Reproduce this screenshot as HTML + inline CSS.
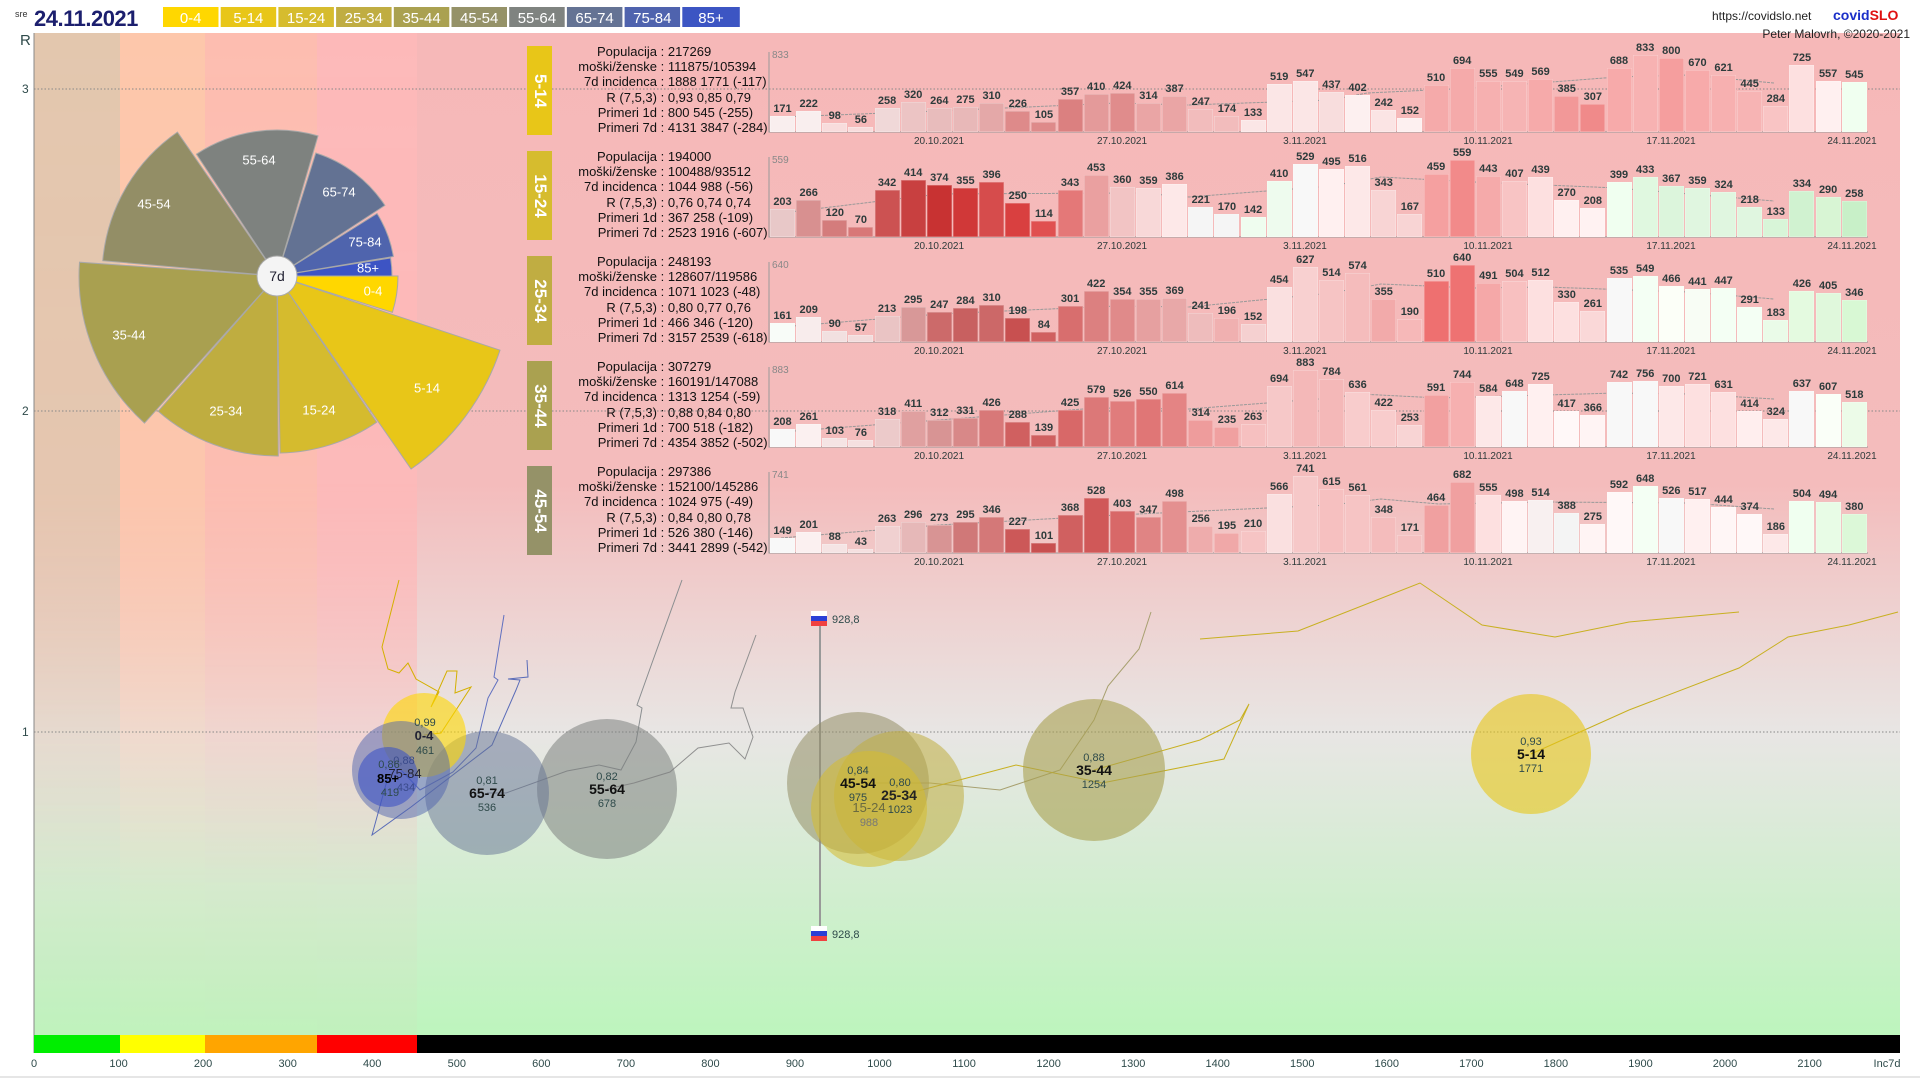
<!DOCTYPE html>
<html><head><meta charset="utf-8">
<style>
html,body{margin:0;padding:0;width:1920px;height:1080px;overflow:hidden;background:#fff;font-family:"Liberation Sans",sans-serif}
#root{position:relative;width:1920px;height:1080px}
svg{position:absolute;left:0;top:0}
.bars{position:absolute;left:770px;height:86px;width:1100px;display:flex;align-items:flex-end;gap:1.15px}
.bars b{display:block;flex:none;width:25px;position:relative;height:calc(var(--v)*var(--k));box-shadow:inset 0 0 0 0.6px rgba(255,255,255,0.35)}
.bars s{text-decoration:none;position:absolute;bottom:100%;left:-8px;right:-8px;text-align:center;font-size:11px;line-height:13px;color:#2d3b3b}
.info{position:absolute;left:560px;font-size:13px;line-height:15.2px;color:#111;white-space:pre}
.info .l{display:inline-block;width:97px;text-align:right}
.lab{position:absolute;left:527px;width:25px;height:89px}
.lab span{position:absolute;left:50%;top:50%;transform:translate(-50%,-50%) rotate(90deg);color:#fff;font-weight:bold;font-size:17px;white-space:nowrap}
</style></head><body><div id="root">
<svg width="1920" height="1080" viewBox="0 0 1920 1080" font-family="Liberation Sans, sans-serif">
<defs>
<linearGradient id="bg" x1="0" y1="0" x2="0" y2="1">
<stop offset="0" stop-color="#f6b8b8"/><stop offset="0.45" stop-color="#f4bcbc"/>
<stop offset="0.7" stop-color="#e8e6e4"/><stop offset="1" stop-color="#bdf5bd"/></linearGradient>
<linearGradient id="fade" x1="0" y1="0" x2="0" y2="1">
<stop offset="0" stop-color="#fff" stop-opacity="1"/><stop offset="0.45" stop-color="#fff" stop-opacity="0.9"/><stop offset="0.62" stop-color="#fff" stop-opacity="0.55"/><stop offset="0.85" stop-color="#fff" stop-opacity="0.08"/><stop offset="1" stop-color="#fff" stop-opacity="0.05"/></linearGradient>
<mask id="m"><rect x="0" y="33" width="1920" height="1002" fill="url(#fade)"/></mask>
</defs>
<rect x="0" y="0" width="1920" height="1080" fill="#fff"/>
<rect x="34" y="33" width="1866" height="1002" fill="url(#bg)"/>
<g mask="url(#m)">
<rect x="34" y="33" width="86" height="1002" fill="#e3c7ae"/>
<rect x="120" y="33" width="85" height="1002" fill="#fdc7ab"/>
<rect x="205" y="33" width="112" height="1002" fill="#fdbdb0"/>
<rect x="317" y="33" width="100" height="1002" fill="#fdb9b9"/>
</g>
<line x1="34" y1="33" x2="34" y2="1053" stroke="#888" stroke-width="1"/>
<line x1="0" y1="1077" x2="1920" y2="1077" stroke="#ccc"/>
<g stroke="#888" stroke-width="1" stroke-dasharray="1.5 2">
<line x1="34" y1="89" x2="1900" y2="89"/><line x1="34" y1="411" x2="1900" y2="411"/><line x1="34" y1="732" x2="1900" y2="732"/></g>
<g font-size="12" fill="#2e4a4a"><text x="20" y="45" font-size="15">R</text><text x="22" y="93">3</text><text x="22" y="415">2</text><text x="22" y="736">1</text></g>
<rect x="34" y="1035" width="86" height="18" fill="#00ee00"/>
<rect x="120" y="1035" width="85" height="18" fill="#ffff00"/>
<rect x="205" y="1035" width="112" height="18" fill="#ffa500"/>
<rect x="317" y="1035" width="100" height="18" fill="#ff0000"/>
<rect x="417" y="1035" width="1483" height="18" fill="#000"/>
<g font-size="11" fill="#2e4a4a" text-anchor="middle">
<text x="34" y="1067">0</text><text x="118.6" y="1067">100</text><text x="203.1" y="1067">200</text><text x="287.7" y="1067">300</text><text x="372.2" y="1067">400</text><text x="456.8" y="1067">500</text><text x="541.3" y="1067">600</text><text x="625.9" y="1067">700</text><text x="710.4" y="1067">800</text><text x="795" y="1067">900</text><text x="879.5" y="1067">1000</text><text x="964.1" y="1067">1100</text><text x="1048.6" y="1067">1200</text><text x="1133.2" y="1067">1300</text><text x="1217.7" y="1067">1400</text><text x="1302.3" y="1067">1500</text><text x="1386.8" y="1067">1600</text><text x="1471.4" y="1067">1700</text><text x="1555.9" y="1067">1800</text><text x="1640.5" y="1067">1900</text><text x="1725" y="1067">2000</text><text x="1809.6" y="1067">2100</text><text x="1887" y="1067">Inc7d</text></g>
<text x="15" y="17" font-size="9" fill="#333">sre</text>
<text x="34" y="26" font-size="22" font-weight="bold" fill="#1c1f6e" letter-spacing="-0.5">24.11.2021</text>
<g font-size="15" fill="#fff" text-anchor="middle">
<rect x="163" y="7" width="55.5" height="20" fill="#ffd700"/><text x="190.7" y="23">0-4</text>
<rect x="220.7" y="7" width="55.5" height="20" fill="#e8c618"/><text x="248.4" y="23">5-14</text>
<rect x="278.4" y="7" width="55.5" height="20" fill="#d6bc2e"/><text x="306.1" y="23">15-24</text>
<rect x="336.1" y="7" width="55.5" height="20" fill="#c0ad42"/><text x="363.8" y="23">25-34</text>
<rect x="393.8" y="7" width="55.5" height="20" fill="#aaa150"/><text x="421.5" y="23">35-44</text>
<rect x="451.5" y="7" width="55.5" height="20" fill="#959268"/><text x="479.2" y="23">45-54</text>
<rect x="509.2" y="7" width="55.5" height="20" fill="#7f8380"/><text x="536.9" y="23">55-64</text>
<rect x="566.9" y="7" width="55.5" height="20" fill="#647394"/><text x="594.6" y="23">65-74</text>
<rect x="624.6" y="7" width="55.5" height="20" fill="#4f63ae"/><text x="652.3" y="23">75-84</text>
<rect x="682.3" y="7" width="57.5" height="20" fill="#3c55c3"/><text x="711" y="23">85+</text></g>
<text x="1712" y="20" font-size="12" fill="#222">https://covidslo.net</text>
<text x="1833" y="20" font-size="14" font-weight="bold" fill="#1a2fc8">covid<tspan fill="#e01010">SLO</tspan></text>
<text x="1910" y="38" font-size="12" fill="#222" text-anchor="end">Peter Malovrh, ©2020-2021</text>
<g stroke="#a8a8a8" stroke-width="1">
<path d="M277 276 L398 276 A121 121 0 0 1 392.4 312.4 Z" fill="#ffd700"/>
<path d="M277 276 L500 350.2 A235 235 0 0 1 411.1 469 Z" fill="#e8c618"/>
<path d="M277 276 L376.7 422.2 A177 177 0 0 1 280.1 453 Z" fill="#d5bb2e"/>
<path d="M277 276 L278.3 456 A180 180 0 0 1 158.2 411.2 Z" fill="#bfad40"/>
<path d="M277 276 L144.5 423.1 A198 198 0 0 1 79.5 262.2 Z" fill="#a9a050"/>
<path d="M277 276 L102.7 260.7 A175 175 0 0 1 177.4 132.1 Z" fill="#938e66"/>
<path d="M277 276 L196.4 154.2 A146 146 0 0 1 318 135.9 Z" fill="#7e827f"/>
<path d="M277 276 L315.8 153 A129 129 0 0 1 384.9 205.4 Z" fill="#637293"/>
<path d="M277 276 L377.1 213.5 A118 118 0 0 1 393.4 256.5 Z" fill="#4f64ad"/>
<path d="M277 276 L390.6 258 A115 115 0 0 1 392 276 Z" fill="#3d54c4"/>
</g>
<circle cx="277" cy="276" r="20" fill="#f4f4f4" stroke="#aaa"/>
<text x="277" y="281" font-size="14" text-anchor="middle" fill="#223">7d</text>
<g font-size="13" fill="#fff" text-anchor="middle" dominant-baseline="central">
<text x="373" y="291">0-4</text><text x="427" y="388">5-14</text><text x="319" y="410">15-24</text><text x="226" y="411">25-34</text><text x="129" y="335">35-44</text><text x="154" y="204">45-54</text><text x="259" y="160">55-64</text><text x="339" y="192">65-74</text><text x="365" y="242">75-84</text><text x="368" y="268">85+</text></g>
<g stroke="#999" stroke-width="1" fill="none">
<path d="M769 52 V132 H1868"/><path d="M769 157 V237 H1868"/><path d="M769 262 V342 H1868"/><path d="M769 367 V447 H1868"/><path d="M769 472 V553 H1868"/></g>
<g font-size="10" fill="#888"><text x="772" y="58">833</text><text x="772" y="163">559</text><text x="772" y="268">640</text><text x="772" y="373">883</text><text x="772" y="478">741</text></g>
<g font-size="10" fill="#2e3b3b" text-anchor="middle">
<text x="939" y="144">20.10.2021</text><text x="1122" y="144">27.10.2021</text><text x="1305" y="144">3.11.2021</text><text x="1488" y="144">10.11.2021</text><text x="1671" y="144">17.11.2021</text><text x="1852" y="144">24.11.2021</text>
<text x="939" y="249">20.10.2021</text><text x="1122" y="249">27.10.2021</text><text x="1305" y="249">3.11.2021</text><text x="1488" y="249">10.11.2021</text><text x="1671" y="249">17.11.2021</text><text x="1852" y="249">24.11.2021</text>
<text x="939" y="354">20.10.2021</text><text x="1122" y="354">27.10.2021</text><text x="1305" y="354">3.11.2021</text><text x="1488" y="354">10.11.2021</text><text x="1671" y="354">17.11.2021</text><text x="1852" y="354">24.11.2021</text>
<text x="939" y="459">20.10.2021</text><text x="1122" y="459">27.10.2021</text><text x="1305" y="459">3.11.2021</text><text x="1488" y="459">10.11.2021</text><text x="1671" y="459">17.11.2021</text><text x="1852" y="459">24.11.2021</text>
<text x="939" y="565">20.10.2021</text><text x="1122" y="565">27.10.2021</text><text x="1305" y="565">3.11.2021</text><text x="1488" y="565">10.11.2021</text><text x="1671" y="565">17.11.2021</text><text x="1852" y="565">24.11.2021</text></g>
<g fill="none" stroke-width="1">
<polyline stroke="#d4b000" points="399,580 382,647 388,669 399,673 408,663 416,679 439,692 431,707 447,671 457,671 455,693 471,687 441,733 424,735"/>
<polyline stroke="#6070c0" points="504,615 494,677 498,680 488,698 476,748 453,772 420,790 401,770"/>
<polyline stroke="#5a6cb8" points="527,660 528,677 508,679 520,680 516,690 492,745 411,807 372,835 388,777"/>
<polyline stroke="#8a8e90" points="682,580 652,663 637,705 642,708 636,742 621,770 599,765 567,771 506,793 487,793"/>
<polyline stroke="#909090" points="756,635 735,692 731,708 743,708 753,737 745,759 729,743 698,748 670,772 634,783 607,789"/>
<polyline stroke="#a8a070" points="1151,612 1139,649 1108,686 1094,720 1060,770 1000,790 930,783 858,783"/>
<polyline stroke="#c8b020" points="1531,754 1629,710 1739,668 1788,637 1849,625 1898,612"/>
<polyline stroke="#c8b020" points="1200,639 1298,631 1420,583 1482,625 1555,637 1629,622 1739,612"/>
<polyline stroke="#c8b020" points="899,796 1016,765 1102,783 1224,759 1249,704 1240,720 1200,740 1094,770"/>
</g>
<line x1="820" y1="618" x2="820" y2="933" stroke="#999" stroke-width="2"/>
<g><rect x="811" y="611" width="16" height="5" fill="#fff"/><rect x="811" y="616" width="16" height="5" fill="#2a3fd6"/><rect x="811" y="621" width="16" height="5" fill="#f04040"/>
<rect x="811" y="926" width="16" height="5" fill="#fff"/><rect x="811" y="931" width="16" height="5" fill="#2a3fd6"/><rect x="811" y="936" width="16" height="5" fill="#f04040"/></g>
<text x="832" y="623" font-size="11" fill="#2e4a4a">928,8</text>
<text x="832" y="938" font-size="11" fill="#2e4a4a">928,8</text>
<g stroke="none">
<circle cx="1094" cy="770" r="71" fill="#a9a050" fill-opacity="0.6"/>
<circle cx="1531" cy="754" r="60" fill="#e8c618" fill-opacity="0.6"/>
<circle cx="607" cy="789" r="70" fill="#7e827f" fill-opacity="0.55"/>
<circle cx="487" cy="793" r="62" fill="#637293" fill-opacity="0.5"/>
<circle cx="858" cy="783" r="71" fill="#938e66" fill-opacity="0.55"/>
<circle cx="899" cy="796" r="65" fill="#bfad40" fill-opacity="0.55"/>
<circle cx="869" cy="809" r="58" fill="#d5bb2e" fill-opacity="0.55"/>
<circle cx="424" cy="735" r="42" fill="#ffd700" fill-opacity="0.6"/>
<circle cx="401" cy="770" r="49" fill="#4f64ad" fill-opacity="0.5"/>
<circle cx="388" cy="777" r="30" fill="#3d54c4" fill-opacity="0.6"/>
</g>
<g text-anchor="middle" fill="#2e4a4a" font-size="11">
<text x="1094" y="761">0,88</text><text x="1094" y="775" font-size="14" font-weight="bold" fill="#111">35-44</text><text x="1094" y="788">1254</text>
<text x="1531" y="745">0,93</text><text x="1531" y="759" font-size="14" font-weight="bold" fill="#111">5-14</text><text x="1531" y="772">1771</text>
<text x="607" y="780">0,82</text><text x="607" y="794" font-size="14" font-weight="bold" fill="#111">55-64</text><text x="607" y="807">678</text>
<text x="487" y="784">0,81</text><text x="487" y="798" font-size="14" font-weight="bold" fill="#111">65-74</text><text x="487" y="811">536</text>
<text x="869" y="812" font-size="13" fill="#6a6a40">15-24</text><text x="869" y="826" fill="#777">988</text>
<text x="900" y="786">0,80</text><text x="899" y="800" font-size="14" font-weight="bold" fill="#222">25-34</text><text x="900" y="813">1023</text>
<text x="858" y="774">0,84</text><text x="858" y="788" font-size="14" font-weight="bold" fill="#111">45-54</text><text x="858" y="801">975</text>
<text x="425" y="726">0,99</text><text x="424" y="740" font-size="13" font-weight="bold" fill="#223">0-4</text><text x="425" y="754">461</text>
<text x="404" y="764" fill="#3a4a8a">0,88</text><text x="405" y="778" font-size="13" fill="#223">75-84</text><text x="406" y="791" fill="#3a4a8a">434</text>
<text x="389" y="768">0,86</text><text x="388" y="783" font-size="13" font-weight="bold" fill="#000">85+</text><text x="390" y="796">419</text>
</g>
<g fill="none" stroke="#999" stroke-width="1" stroke-dasharray="3 1">
<polyline points="781,117 939,111 1117,103 1189,105 1331,100 1367,93 1474,88 1617,77 1689,75 1774,83"/>
<polyline points="781,213 939,194 1139,193 1189,197 1331,186 1381,177 1474,182 1617,188 1774,201"/>
<polyline points="781,327 939,314 1117,306 1189,307 1331,293 1381,284 1474,288 1546,287 1689,292 1774,299"/>
<polyline points="781,432 939,420 1096,408 1189,409 1331,398 1360,394 1439,398 1546,395 1617,393 1689,394 1774,399"/>
<polyline points="781,538 939,525 1117,515 1331,505 1381,499 1439,504 1546,502 1689,503 1774,509"/>
</g>
</svg>

<div class="lab" style="top:46px;background:#e8c618"><span>5-14</span></div>
<div class="lab" style="top:151px;background:#d6bc2e"><span>15-24</span></div>
<div class="lab" style="top:256px;background:#c0ad42"><span>25-34</span></div>
<div class="lab" style="top:361px;background:#aaa150"><span>35-44</span></div>
<div class="lab" style="top:466px;background:#959268"><span>45-54</span></div>

<div class="info" style="top:44px"><span class="l">Populacija</span> : 217269
<span class="l">moški/ženske</span> : 111875/105394
<span class="l">7d incidenca</span> : 1888 1771 (-117)
<span class="l">R (7,5,3)</span> : 0,93 0,85 0,79
<span class="l">Primeri 1d</span> : 800 545 (-255)
<span class="l">Primeri 7d</span> : 4131 3847 (-284)</div>
<div class="info" style="top:149px"><span class="l">Populacija</span> : 194000
<span class="l">moški/ženske</span> : 100488/93512
<span class="l">7d incidenca</span> : 1044 988 (-56)
<span class="l">R (7,5,3)</span> : 0,76 0,74 0,74
<span class="l">Primeri 1d</span> : 367 258 (-109)
<span class="l">Primeri 7d</span> : 2523 1916 (-607)</div>
<div class="info" style="top:254px"><span class="l">Populacija</span> : 248193
<span class="l">moški/ženske</span> : 128607/119586
<span class="l">7d incidenca</span> : 1071 1023 (-48)
<span class="l">R (7,5,3)</span> : 0,80 0,77 0,76
<span class="l">Primeri 1d</span> : 466 346 (-120)
<span class="l">Primeri 7d</span> : 3157 2539 (-618)</div>
<div class="info" style="top:359px"><span class="l">Populacija</span> : 307279
<span class="l">moški/ženske</span> : 160191/147088
<span class="l">7d incidenca</span> : 1313 1254 (-59)
<span class="l">R (7,5,3)</span> : 0,88 0,84 0,80
<span class="l">Primeri 1d</span> : 700 518 (-182)
<span class="l">Primeri 7d</span> : 4354 3852 (-502)</div>
<div class="info" style="top:464px"><span class="l">Populacija</span> : 297386
<span class="l">moški/ženske</span> : 152100/145286
<span class="l">7d incidenca</span> : 1024 975 (-49)
<span class="l">R (7,5,3)</span> : 0,84 0,80 0,78
<span class="l">Primeri 1d</span> : 526 380 (-146)
<span class="l">Primeri 7d</span> : 3441 2899 (-542)</div>

<div class="bars" style="top:46px;--k:0.09244px">
<b style="--v:171;background:#f9eeee"><s>171</s></b><b style="--v:222;background:#f9eeee"><s>222</s></b><b style="--v:98;background:#f8dcdc"><s>98</s></b><b style="--v:56;background:#f8dcdc"><s>56</s></b><b style="--v:258;background:#f0d8d8"><s>258</s></b><b style="--v:320;background:#ecc4c4"><s>320</s></b><b style="--v:264;background:#e8bcbc"><s>264</s></b><b style="--v:275;background:#e8b8b8"><s>275</s></b><b style="--v:310;background:#e4a8a8"><s>310</s></b><b style="--v:226;background:#de8a8a"><s>226</s></b><b style="--v:105;background:#de8a8a"><s>105</s></b><b style="--v:357;background:#db8080"><s>357</s></b><b style="--v:410;background:#e49a9a"><s>410</s></b><b style="--v:424;background:#e08c8c"><s>424</s></b><b style="--v:314;background:#eaa5a5"><s>314</s></b><b style="--v:387;background:#eaa5a5"><s>387</s></b><b style="--v:247;background:#f2bcbc"><s>247</s></b><b style="--v:174;background:#f2bcbc"><s>174</s></b><b style="--v:133;background:#fbe6e6"><s>133</s></b><b style="--v:519;background:#fbe6e6"><s>519</s></b><b style="--v:547;background:#fbe6e6"><s>547</s></b><b style="--v:437;background:#f8dddd"><s>437</s></b><b style="--v:402;background:#fdf0f0"><s>402</s></b><b style="--v:242;background:#fbe4e4"><s>242</s></b><b style="--v:152;background:#fdf0f0"><s>152</s></b><b style="--v:510;background:#f5aaaa"><s>510</s></b><b style="--v:694;background:#f5aaaa"><s>694</s></b><b style="--v:555;background:#f6b0b0"><s>555</s></b><b style="--v:549;background:#f6b4b4"><s>549</s></b><b style="--v:569;background:#f6aaaa"><s>569</s></b><b style="--v:385;background:#f29898"><s>385</s></b><b style="--v:307;background:#f08a8a"><s>307</s></b><b style="--v:688;background:#f7aaaa"><s>688</s></b><b style="--v:833;background:#f7b2b2"><s>833</s></b><b style="--v:800;background:#f59e9e"><s>800</s></b><b style="--v:670;background:#f7aaaa"><s>670</s></b><b style="--v:621;background:#f7b0b0"><s>621</s></b><b style="--v:445;background:#f7b4b4"><s>445</s></b><b style="--v:284;background:#f9c4c4"><s>284</s></b><b style="--v:725;background:#fde0e0"><s>725</s></b><b style="--v:557;background:#fff0f0"><s>557</s></b><b style="--v:545;background:#f0fff0"><s>545</s></b>
</div>
<div class="bars" style="top:151px;--k:0.13775px">
<b style="--v:203;background:#e8c8c8"><s>203</s></b><b style="--v:266;background:#d89090"><s>266</s></b><b style="--v:120;background:#d47c7c"><s>120</s></b><b style="--v:70;background:#d87878"><s>70</s></b><b style="--v:342;background:#cc5252"><s>342</s></b><b style="--v:414;background:#c84040"><s>414</s></b><b style="--v:374;background:#c83232"><s>374</s></b><b style="--v:355;background:#d03838"><s>355</s></b><b style="--v:396;background:#d64c4c"><s>396</s></b><b style="--v:250;background:#d94040"><s>250</s></b><b style="--v:114;background:#e05050"><s>114</s></b><b style="--v:343;background:#e47878"><s>343</s></b><b style="--v:453;background:#eaa0a0"><s>453</s></b><b style="--v:360;background:#f2c4c4"><s>360</s></b><b style="--v:359;background:#f8d8d8"><s>359</s></b><b style="--v:386;background:#fde8e8"><s>386</s></b><b style="--v:221;background:#f5f5f5"><s>221</s></b><b style="--v:170;background:#f5f5f5"><s>170</s></b><b style="--v:142;background:#effdef"><s>142</s></b><b style="--v:410;background:#eefbee"><s>410</s></b><b style="--v:529;background:#f8f8f8"><s>529</s></b><b style="--v:495;background:#fff0f0"><s>495</s></b><b style="--v:516;background:#fde8e8"><s>516</s></b><b style="--v:343;background:#f8d4d4"><s>343</s></b><b style="--v:167;background:#f8d4d4"><s>167</s></b><b style="--v:459;background:#f5a0a0"><s>459</s></b><b style="--v:559;background:#f28a8a"><s>559</s></b><b style="--v:443;background:#f5aaaa"><s>443</s></b><b style="--v:407;background:#f8c4c4"><s>407</s></b><b style="--v:439;background:#fde0e0"><s>439</s></b><b style="--v:270;background:#fff0f0"><s>270</s></b><b style="--v:208;background:#fff2f2"><s>208</s></b><b style="--v:399;background:#f0fff0"><s>399</s></b><b style="--v:433;background:#e0f8e0"><s>433</s></b><b style="--v:367;background:#dcf5dc"><s>367</s></b><b style="--v:359;background:#e0f6e0"><s>359</s></b><b style="--v:324;background:#e0f6e0"><s>324</s></b><b style="--v:218;background:#e0f6e0"><s>218</s></b><b style="--v:133;background:#d8f5d8"><s>133</s></b><b style="--v:334;background:#d0f2d0"><s>334</s></b><b style="--v:290;background:#d8f5d4"><s>290</s></b><b style="--v:258;background:#c8f0c8"><s>258</s></b>
</div>
<div class="bars" style="top:256px;--k:0.12031px">
<b style="--v:161;background:#f8fcf8"><s>161</s></b><b style="--v:209;background:#f8ecec"><s>209</s></b><b style="--v:90;background:#f2e0e0"><s>90</s></b><b style="--v:57;background:#f2dcdc"><s>57</s></b><b style="--v:213;background:#eac4c4"><s>213</s></b><b style="--v:295;background:#d89898"><s>295</s></b><b style="--v:247;background:#cc6a6a"><s>247</s></b><b style="--v:284;background:#c86060"><s>284</s></b><b style="--v:310;background:#cc6868"><s>310</s></b><b style="--v:198;background:#c85050"><s>198</s></b><b style="--v:84;background:#d06060"><s>84</s></b><b style="--v:301;background:#d86e6e"><s>301</s></b><b style="--v:422;background:#dc8080"><s>422</s></b><b style="--v:354;background:#e08a8a"><s>354</s></b><b style="--v:355;background:#e6a0a0"><s>355</s></b><b style="--v:369;background:#e8a8a8"><s>369</s></b><b style="--v:241;background:#eebcbc"><s>241</s></b><b style="--v:196;background:#f0b0b0"><s>196</s></b><b style="--v:152;background:#f5d0d0"><s>152</s></b><b style="--v:454;background:#fae0e0"><s>454</s></b><b style="--v:627;background:#f8d0d0"><s>627</s></b><b style="--v:514;background:#f6c4c4"><s>514</s></b><b style="--v:574;background:#f5bcbc"><s>574</s></b><b style="--v:355;background:#f2aaaa"><s>355</s></b><b style="--v:190;background:#f6b8b8"><s>190</s></b><b style="--v:510;background:#ee7070"><s>510</s></b><b style="--v:640;background:#ee7272"><s>640</s></b><b style="--v:491;background:#f5a8a8"><s>491</s></b><b style="--v:504;background:#f8c0c0"><s>504</s></b><b style="--v:512;background:#fde0e0"><s>512</s></b><b style="--v:330;background:#fde0e0"><s>330</s></b><b style="--v:261;background:#fad8d8"><s>261</s></b><b style="--v:535;background:#f8f8f8"><s>535</s></b><b style="--v:549;background:#f4fff4"><s>549</s></b><b style="--v:466;background:#fcfff8"><s>466</s></b><b style="--v:441;background:#f8fdf5"><s>441</s></b><b style="--v:447;background:#f4fff4"><s>447</s></b><b style="--v:291;background:#f4fff4"><s>291</s></b><b style="--v:183;background:#eafbe8"><s>183</s></b><b style="--v:426;background:#e4fae0"><s>426</s></b><b style="--v:405;background:#e0f8dc"><s>405</s></b><b style="--v:346;background:#d8f8d4"><s>346</s></b>
</div>
<div class="bars" style="top:361px;--k:0.08720px">
<b style="--v:208;background:#f8f8f8"><s>208</s></b><b style="--v:261;background:#fbf0f0"><s>261</s></b><b style="--v:103;background:#f5e4e4"><s>103</s></b><b style="--v:76;background:#f5e0e0"><s>76</s></b><b style="--v:318;background:#eccaca"><s>318</s></b><b style="--v:411;background:#e0a0a0"><s>411</s></b><b style="--v:312;background:#d89494"><s>312</s></b><b style="--v:331;background:#d88888"><s>331</s></b><b style="--v:426;background:#d87878"><s>426</s></b><b style="--v:288;background:#d06060"><s>288</s></b><b style="--v:139;background:#d06060"><s>139</s></b><b style="--v:425;background:#d86868"><s>425</s></b><b style="--v:579;background:#dc7878"><s>579</s></b><b style="--v:526;background:#e07c7c"><s>526</s></b><b style="--v:550;background:#e07676"><s>550</s></b><b style="--v:614;background:#e48484"><s>614</s></b><b style="--v:314;background:#ee9c9c"><s>314</s></b><b style="--v:235;background:#f0a0a0"><s>235</s></b><b style="--v:263;background:#f6c0c0"><s>263</s></b><b style="--v:694;background:#f6c8c8"><s>694</s></b><b style="--v:883;background:#f4b8b8"><s>883</s></b><b style="--v:784;background:#f4b8b8"><s>784</s></b><b style="--v:636;background:#f8cccc"><s>636</s></b><b style="--v:422;background:#f8cccc"><s>422</s></b><b style="--v:253;background:#f8d4d4"><s>253</s></b><b style="--v:591;background:#f2a0a0"><s>591</s></b><b style="--v:744;background:#f6b0b0"><s>744</s></b><b style="--v:584;background:#fde8e8"><s>584</s></b><b style="--v:648;background:#f8f8f8"><s>648</s></b><b style="--v:725;background:#fff0f0"><s>725</s></b><b style="--v:417;background:#fff8f8"><s>417</s></b><b style="--v:366;background:#fff4f4"><s>366</s></b><b style="--v:742;background:#f8f8f8"><s>742</s></b><b style="--v:756;background:#f8f8f8"><s>756</s></b><b style="--v:700;background:#fde8e8"><s>700</s></b><b style="--v:721;background:#fde0e0"><s>721</s></b><b style="--v:631;background:#fde0e0"><s>631</s></b><b style="--v:414;background:#ffeeee"><s>414</s></b><b style="--v:324;background:#fde8e8"><s>324</s></b><b style="--v:637;background:#f8f8f8"><s>637</s></b><b style="--v:607;background:#fafff8"><s>607</s></b><b style="--v:518;background:#ecfbe8"><s>518</s></b>
</div>
<div class="bars" style="top:467px;--k:0.10391px">
<b style="--v:149;background:#f8f8f8"><s>149</s></b><b style="--v:201;background:#fbf0f0"><s>201</s></b><b style="--v:88;background:#f5e4e4"><s>88</s></b><b style="--v:43;background:#f5e0e0"><s>43</s></b><b style="--v:263;background:#f0d0d0"><s>263</s></b><b style="--v:296;background:#e6b8b8"><s>296</s></b><b style="--v:273;background:#d89494"><s>273</s></b><b style="--v:295;background:#d07878"><s>295</s></b><b style="--v:346;background:#d47878"><s>346</s></b><b style="--v:227;background:#cc5858"><s>227</s></b><b style="--v:101;background:#c85050"><s>101</s></b><b style="--v:368;background:#d06060"><s>368</s></b><b style="--v:528;background:#d05858"><s>528</s></b><b style="--v:403;background:#d86868"><s>403</s></b><b style="--v:347;background:#e08484"><s>347</s></b><b style="--v:498;background:#e49090"><s>498</s></b><b style="--v:256;background:#eeacac"><s>256</s></b><b style="--v:195;background:#f0a8a8"><s>195</s></b><b style="--v:210;background:#f6c4c4"><s>210</s></b><b style="--v:566;background:#fae0e0"><s>566</s></b><b style="--v:741;background:#f6c8c8"><s>741</s></b><b style="--v:615;background:#f6c0c0"><s>615</s></b><b style="--v:561;background:#f6c4c4"><s>561</s></b><b style="--v:348;background:#f4bcbc"><s>348</s></b><b style="--v:171;background:#f4c0c0"><s>171</s></b><b style="--v:464;background:#f0a0a0"><s>464</s></b><b style="--v:682;background:#f0a0a0"><s>682</s></b><b style="--v:555;background:#fde0e0"><s>555</s></b><b style="--v:498;background:#fff4f4"><s>498</s></b><b style="--v:514;background:#f8f0f0"><s>514</s></b><b style="--v:388;background:#f4f4f4"><s>388</s></b><b style="--v:275;background:#fff4f4"><s>275</s></b><b style="--v:592;background:#fff8f8"><s>592</s></b><b style="--v:648;background:#f4fff4"><s>648</s></b><b style="--v:526;background:#f8f8f8"><s>526</s></b><b style="--v:517;background:#fff0f0"><s>517</s></b><b style="--v:444;background:#fff6f6"><s>444</s></b><b style="--v:374;background:#fff8f8"><s>374</s></b><b style="--v:186;background:#fde8e8"><s>186</s></b><b style="--v:504;background:#f0fff0"><s>504</s></b><b style="--v:494;background:#e8fce6"><s>494</s></b><b style="--v:380;background:#dcf8d8"><s>380</s></b>
</div>
</div></body></html>
